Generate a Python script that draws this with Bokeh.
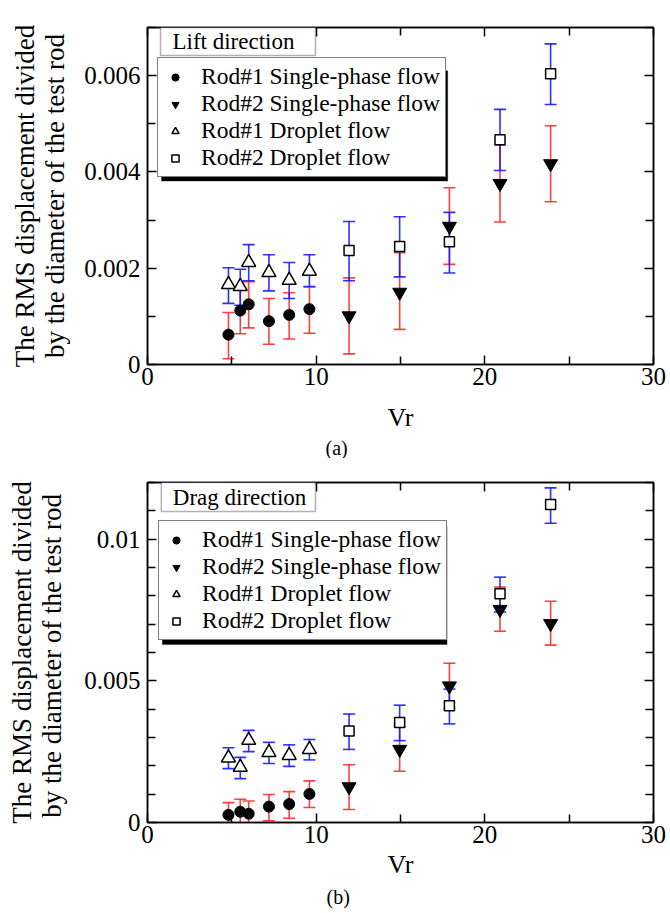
from bokeh.plotting import figure
from bokeh.models import (Whisker, TeeHead, ColumnDataSource, Legend, LegendItem, Label,
                          BoxAnnotation, LinearAxis, FixedTicker, Range1d, Title)
from bokeh.layouts import column
from bokeh.embed import file_html
from bokeh.resources import INLINE

FONT = "Liberation Serif"
RED = "#ff2b2b"
BLUE = "#1a1aff"

# ---------------- data ----------------
vr_rod1 = [4.8, 5.5, 6.0, 7.2, 8.4, 9.6]
vr_rod2 = [11.95, 14.95, 17.9, 20.9, 23.9]

# (a) Lift direction
lift_r1_single = [0.00062, 0.00112, 0.00125, 0.00090, 0.00103, 0.00115]
lift_r1_single_lo = [0.00012, 0.00064, 0.00076, 0.00042, 0.00053, 0.00065]
lift_r1_single_hi = [0.00108, 0.00160, 0.00172, 0.00137, 0.00149, 0.00161]

lift_r1_drop = [0.00166, 0.00162, 0.00212, 0.00191, 0.00175, 0.00194]
lift_r1_drop_lo = [0.00127, 0.00123, 0.00174, 0.00153, 0.00137, 0.00162]
lift_r1_drop_hi = [0.00201, 0.00198, 0.00249, 0.00228, 0.00212, 0.00228]

lift_r2_single = [0.00101, 0.00150, 0.00287, 0.00376, 0.00417]
lift_r2_single_lo = [0.00022, 0.00073, 0.00208, 0.00296, 0.00338]
lift_r2_single_hi = [0.00180, 0.00232, 0.00367, 0.00456, 0.00496]

lift_r2_drop = [0.00237, 0.00245, 0.00255, 0.00467, 0.00604]
lift_r2_drop_lo = [0.00174, 0.00182, 0.00190, 0.00403, 0.00540]
lift_r2_drop_hi = [0.00297, 0.00307, 0.00316, 0.00530, 0.00666]

# (b) Drag direction
drag_r1_single = [0.00027, 0.00038, 0.00031, 0.00056, 0.00065, 0.00101]
drag_r1_single_lo = [-0.00016, -0.00006, -0.00014, 0.00006, 0.00015, 0.00053]
drag_r1_single_hi = [0.00070, 0.00082, 0.00076, 0.00099, 0.00109, 0.00147]

drag_r1_drop = [0.00228, 0.00195, 0.00290, 0.00247, 0.00237, 0.00258]
drag_r1_drop_lo = [0.00190, 0.00155, 0.00250, 0.00208, 0.00198, 0.00221]
drag_r1_drop_hi = [0.00264, 0.00230, 0.00325, 0.00283, 0.00274, 0.00293]

drag_r2_single = [0.00126, 0.00258, 0.00482, 0.00752, 0.00702]
drag_r2_single_lo = [0.00046, 0.00181, 0.00402, 0.00675, 0.00626]
drag_r2_single_hi = [0.00204, 0.00338, 0.00562, 0.00831, 0.00781]

drag_r2_drop = [0.00323, 0.00353, 0.00412, 0.00807, 0.01122]
drag_r2_drop_lo = [0.00258, 0.00289, 0.00348, 0.00743, 0.01056]
drag_r2_drop_hi = [0.00383, 0.00414, 0.00471, 0.00866, 0.01181]

legend_labels = ["Rod#1 Single-phase flow", "Rod#2 Single-phase flow",
                 "Rod#1 Droplet flow", "Rod#2 Droplet flow"]

x_ticks = [0, 10, 20, 30]
x_minor = [5, 15, 25]
lift_yticks = [0, 0.002, 0.004, 0.006]
lift_ylabels = ["0", "0.002", "0.004", "0.006"]
lift_yminor = [0.001, 0.003, 0.005, 0.007]
drag_yticks = [0, 0.005, 0.01]
drag_ylabels = ["0", "0.005", "0.01"]
drag_yminor = [0.001, 0.002, 0.003, 0.004, 0.006, 0.007, 0.008, 0.009, 0.011, 0.012]


def whisker(p, x, lo, hi, color):
    src = ColumnDataSource(dict(x=x, lo=lo, hi=hi))
    w = Whisker(base="x", lower="lo", upper="hi", source=src, dimension="height",
                line_color=color, line_width=1.6, line_alpha=0.9,
                upper_head=TeeHead(size=12, line_color=color, line_width=1.6, line_alpha=0.9),
                lower_head=TeeHead(size=12, line_color=color, line_width=1.6, line_alpha=0.9))
    p.add_layout(w)


def panel(series, ymax, yticks, ylabels, yminor, ylabel, title_text, sub,
          height, left, top, bottom, legend_loc, shadow, tbox, tlabel, sub_offset,
          ylabel_standoff, xlabel_standoff, sub_standoff):
    p = figure(width=670, height=height, output_backend="svg", toolbar_location=None,
               x_range=Range1d(0, 30), y_range=Range1d(0, ymax),
               min_border_left=left, min_border_right=17, min_border_top=top,
               min_border_bottom=bottom)
    p.grid.visible = False
    p.outline_line_color = "black"
    p.outline_line_width = 1.5
    p.background_fill_color = "white"
    p.border_fill_color = "white"

    xt = FixedTicker(ticks=x_ticks, minor_ticks=x_minor)
    yt = FixedTicker(ticks=yticks, minor_ticks=yminor)

    p.xaxis.ticker = xt
    p.yaxis.ticker = yt
    p.yaxis.major_label_overrides = {str(t): l for t, l in zip(yticks, ylabels)} | {0: "0"}

    for ax in (p.xaxis[0], p.yaxis[0]):
        ax.axis_line_width = 1.5
        ax.major_tick_line_width = 1.5
        ax.minor_tick_line_width = 1.5
        ax.major_tick_out = 0
        ax.minor_tick_out = 0
        ax.major_tick_in = 9
        ax.minor_tick_in = 8
        ax.major_label_text_font = FONT
        ax.major_label_text_font_size = "25px"
        ax.major_label_text_color = "black"
        ax.axis_label_text_font = FONT
        ax.axis_label_text_font_style = "normal"
        ax.axis_label_text_color = "black"

    p.xaxis.axis_label = "Vr"
    p.xaxis.axis_label_text_font_size = "26px"
    p.xaxis.major_label_standoff = 3
    p.xaxis.axis_label_standoff = xlabel_standoff
    p.yaxis.axis_label = ylabel
    p.yaxis.axis_label_text_font_size = "27px"
    p.yaxis.axis_label_text_line_height = 1.02
    p.yaxis.major_label_standoff = 7
    p.yaxis.axis_label_standoff = ylabel_standoff

    # mirrored axes (ticks only)
    for loc, tk in (("right", yt), ("above", xt)):
        ax = LinearAxis(ticker=tk, major_label_text_font_size="0px", axis_line_width=1.5,
                        major_tick_line_width=1.5, minor_tick_line_width=1.5,
                        major_tick_out=0, minor_tick_out=0, major_tick_in=9, minor_tick_in=8,
                        major_label_standoff=0)
        p.add_layout(ax, loc)

    (x1, s1, s1lo, s1hi), (x2, s2, s2lo, s2hi), (x3, d1, d1lo, d1hi), (x4, d2, d2lo, d2hi) = series
    whisker(p, x1, s1lo, s1hi, RED)
    whisker(p, x2, s2lo, s2hi, RED)
    whisker(p, x3, d1lo, d1hi, BLUE)
    whisker(p, x4, d2lo, d2hi, BLUE)

    r1 = p.scatter(x1, s1, marker="circle", size=11, fill_color="black", line_color="black")
    r2 = p.scatter(x2, s2, marker="inverted_triangle", size=14, fill_color="black", line_color="black")
    r3 = p.scatter(x3, d1, marker="triangle", size=14, fill_color="white", line_color="black", line_width=1.5)
    r4 = p.scatter(x4, d2, marker="square", size=10, fill_color="white", line_color="black", line_width=1.5)

    # title box
    p.add_layout(BoxAnnotation(left=tbox[0], right=tbox[1], bottom=tbox[2], top=tbox[3],
                               fill_color="white", fill_alpha=1, line_color="black", line_width=1.5))
    p.add_layout(Label(x=tlabel[0], y=tlabel[1], text=title_text, text_font=FONT,
                       text_font_size="23px", text_baseline="middle", text_align="left",
                       text_color="black"))

    # legend shadow
    p.add_layout(BoxAnnotation(left=shadow[0], right=shadow[1], bottom=shadow[2], top=shadow[3],
                               fill_color="black", fill_alpha=1, line_color="black"))
    leg = Legend(items=[LegendItem(label=legend_labels[0], renderers=[r1]),
                        LegendItem(label=legend_labels[1], renderers=[r2]),
                        LegendItem(label=legend_labels[2], renderers=[r3]),
                        LegendItem(label=legend_labels[3], renderers=[r4])],
                 location=legend_loc, label_text_font=FONT, label_text_font_size="23.5px",
                 label_text_color="black", label_text_line_height=0.8,
                 glyph_width=24, glyph_height=18, label_height=18,
                 label_standoff=14, padding=5, spacing=-4, margin=0,
                 border_line_color="black", border_line_width=1.5,
                 background_fill_color="white", background_fill_alpha=1)
    p.add_layout(leg)

    p.add_layout(Title(text=sub, align="left", offset=sub_offset, standoff=sub_standoff,
                       text_font=FONT, text_font_size="20px", text_font_style="normal",
                       text_color="black"),
                 "below")
    return p


p1 = panel(
    [(vr_rod1, lift_r1_single, lift_r1_single_lo, lift_r1_single_hi),
     (vr_rod2, lift_r2_single, lift_r2_single_lo, lift_r2_single_hi),
     (vr_rod1, lift_r1_drop, lift_r1_drop_lo, lift_r1_drop_hi),
     (vr_rod2, lift_r2_drop, lift_r2_drop_lo, lift_r2_drop_hi)],
    0.007, lift_yticks, lift_ylabels, lift_yminor,
    "The RMS displacement divided\nby the diameter of the test rod",
    "Lift direction", "(a)",
    height=458, left=147, top=27, bottom=93, legend_loc=(10, 187),
    shadow=(0.83, 17.8, 0.00381, 0.0061), tbox=(0.77, 9.96, 0.00642, 0.007),
    tlabel=(1.48, 0.00671), sub_offset=178, ylabel_standoff=11, xlabel_standoff=15,
    sub_standoff=0)

p2 = panel(
    [(vr_rod1, drag_r1_single, drag_r1_single_lo, drag_r1_single_hi),
     (vr_rod2, drag_r2_single, drag_r2_single_lo, drag_r2_single_hi),
     (vr_rod1, drag_r1_drop, drag_r1_drop_lo, drag_r1_drop_hi),
     (vr_rod2, drag_r2_drop, drag_r2_drop_lo, drag_r2_drop_hi)],
    0.012, drag_yticks, drag_ylabels, drag_yminor,
    "The RMS displacement divided\nby the  diameter of the test rod",
    "Drag direction", "(b)",
    height=455, left=144, top=24, bottom=91, legend_loc=(11, 182),
    shadow=(0.88, 17.76, 0.00628, 0.01045), tbox=(0.82, 9.96, 0.01098, 0.012),
    tlabel=(1.5, 0.01147), sub_offset=179, ylabel_standoff=14, xlabel_standoff=4,
    sub_standoff=5)

layout = column(p1, p2)
open("out.html", "w").write(file_html(layout, INLINE))
